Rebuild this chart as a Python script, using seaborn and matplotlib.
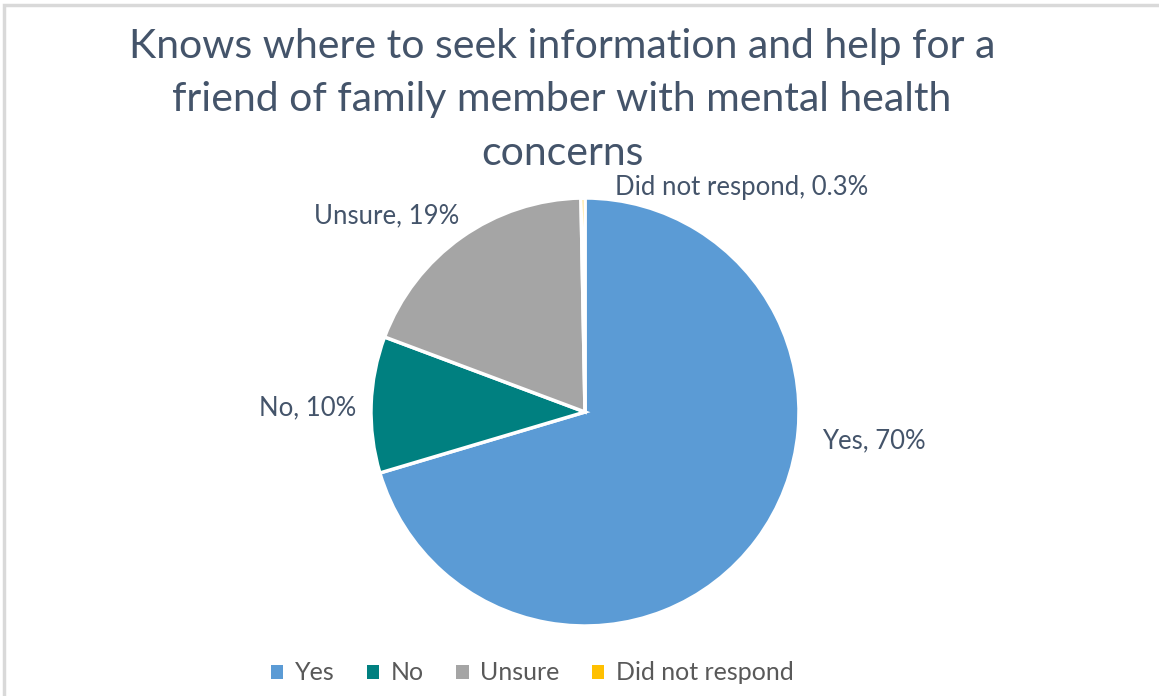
import matplotlib
matplotlib.use("Agg")
import matplotlib.pyplot as plt
import seaborn as sns
from matplotlib.patches import Patch, Rectangle

# Survey answers, clockwise from 12 o'clock
categories = ["Yes", "No", "Unsure", "Did not respond"]
shares = [70.4, 10.3, 19.0, 0.3]
share_labels = ["Yes, 70%", "No, 10%", "Unsure, 19%", "Did not respond, 0.3%"]
colors = ["#5B9BD5", "#008080", "#A5A5A5", "#FFC000"]

title = ("Knows where to seek information and help for a\n"
         "friend of family member with mental health\n"
         "concerns")

sns.set_theme(style="white")
plt.rcParams["font.family"] = ["Lato", "DejaVu Sans"]

W, H = 1159, 696
fig = plt.figure(figsize=(W / 100, H / 100), dpi=100)
ax = fig.add_axes([0, 0, 1, 1])

# chart frame (light gray border)
fig.patches.append(Rectangle((4 / W, -0.01), 1.2, (H - 5) / H + 0.01,
                             transform=fig.transFigure, fill=False,
                             edgecolor="#D9D9D9", linewidth=2.5))

wedges, _ = ax.pie(shares, colors=colors, startangle=90, counterclock=False,
                   center=(585, H - 412), radius=214, frame=True,
                   wedgeprops=dict(edgecolor="white", linewidth=2.5))
ax.set_xlim(0, W)
ax.set_ylim(0, H)
ax.set_aspect("equal")
ax.axis("off")

label_color = "#44546A"
label_pos = [(822, H - 441, "left"), (356, H - 408, "right"),
             (459, H - 216, "right"), (615, H - 187, "left")]
for txt, (x, y, ha) in zip(share_labels, label_pos):
    ax.text(x, y, txt, ha=ha, va="center", fontsize=18.5, color=label_color)

ax.text(562, H - 100, title, ha="center", va="center", fontsize=29.5,
        color=label_color, linespacing=1.55)

handles = [Patch(facecolor=c, edgecolor="none") for c in colors]
leg = fig.legend(handles, categories, loc="center", ncol=4,
                 bbox_to_anchor=(532 / W, 1 - 673 / H), frameon=False,
                 fontsize=18, handlelength=0.5, handleheight=0.5,
                 handletextpad=0.45, columnspacing=1.3)
for t in leg.get_texts():
    t.set_color("#595959")

fig.savefig("out.png", dpi=100)
